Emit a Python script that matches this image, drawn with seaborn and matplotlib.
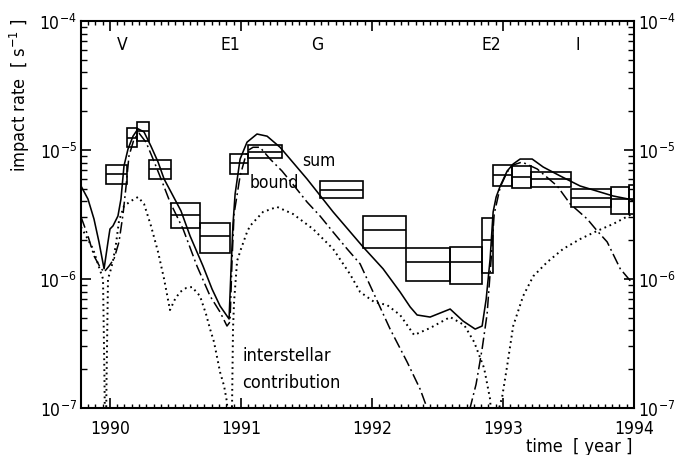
import numpy as np
import pandas as pd
import matplotlib
matplotlib.use("Agg")
import matplotlib.pyplot as plt
from matplotlib import font_manager
from matplotlib.ticker import FixedLocator, FixedFormatter, MultipleLocator, LogLocator, NullFormatter
import seaborn as sns

# ---- model curves (time in years, rate in s^-1) ----
sum_t = [1989.780, 1989.833, 1989.879, 1989.917, 1989.956, 1989.986, 1990.001, 1990.024,
         1990.062, 1990.085, 1990.108, 1990.139, 1990.177, 1990.215, 1990.261, 1990.314,
         1990.368, 1990.414, 1990.467, 1990.543, 1990.612, 1990.711, 1990.780, 1990.841,
         1990.910, 1990.925, 1990.940, 1990.956, 1990.994, 1991.047, 1991.123, 1991.200,
         1991.299, 1991.505, 1991.704, 1991.933, 1992.085, 1992.215, 1992.292, 1992.345,
         1992.444, 1992.597, 1992.696, 1992.788, 1992.841, 1992.872, 1992.902, 1992.925,
         1992.948, 1992.979, 1993.032, 1993.078, 1993.131, 1993.223, 1993.307, 1993.437,
         1993.589, 1993.742, 1993.841, 1993.956, 1994.000]
sum_r = [5.26e-6, 4.17e-6, 2.92e-6, 1.94e-6, 1.20e-6, 1.94e-6, 2.44e-6, 2.58e-6,
         3.08e-6, 4.17e-6, 7.52e-6, 1.02e-5, 1.28e-5, 1.46e-5, 1.38e-5, 1.07e-5,
         8.07e-6, 5.96e-6, 4.72e-6, 3.37e-6, 2.16e-6, 1.26e-6, 8.36e-7, 6.18e-7,
         4.90e-7, 1.20e-6, 2.67e-6, 4.56e-6, 8.51e-6, 1.15e-5, 1.33e-5, 1.28e-5,
         1.05e-5, 5.96e-6, 3.31e-6, 1.77e-6, 1.20e-6, 7.93e-7, 6.07e-7, 5.26e-7,
         5.07e-7, 5.85e-7, 4.72e-7, 4.09e-7, 4.32e-7, 7.00e-7, 1.43e-6, 3.31e-6,
         4.32e-6, 5.26e-6, 6.87e-6, 7.79e-6, 8.51e-6, 8.51e-6, 7.38e-6, 6.29e-6,
         5.26e-6, 4.72e-6, 4.40e-6, 4.17e-6, 4.03e-6]

bound_t = [1989.780, 1989.833, 1989.879, 1989.925, 1989.956, 1989.994, 1990.032, 1990.070,
           1990.101, 1990.124, 1990.146, 1990.185, 1990.223, 1990.276, 1990.330, 1990.391,
           1990.459, 1990.559, 1990.665, 1990.765, 1990.841, 1990.894, 1990.917, 1990.933,
           1990.948, 1990.994, 1991.047, 1991.093, 1991.146, 1991.223, 1991.314, 1991.414,
           1991.505, 1991.604, 1991.704, 1991.811, 1991.910, 1992.009, 1992.139, 1992.269,
           1992.368, 1992.421, 1992.482, 1992.711, 1992.749, 1992.795, 1992.841, 1992.879,
           1992.910, 1992.933, 1992.979, 1993.032, 1993.078, 1993.146, 1993.261, 1993.414,
           1993.513, 1993.643, 1993.719, 1993.795, 1993.895, 1993.986]
bound_r = [3.03e-6, 2.16e-6, 1.51e-6, 1.24e-6, 1.13e-6, 1.26e-6, 1.43e-6, 1.94e-6,
           3.19e-6, 5.26e-6, 8.98e-6, 1.22e-5, 1.35e-5, 1.15e-5, 8.51e-6, 5.96e-6,
           3.95e-6, 2.44e-6, 1.26e-6, 7.38e-7, 5.55e-7, 4.32e-7, 4.65e-7, 1.43e-6,
           3.19e-6, 6.29e-6, 9.82e-6, 1.05e-5, 1.05e-5, 8.51e-6, 6.87e-6, 5.16e-6,
           3.95e-6, 3.08e-6, 2.31e-6, 1.71e-6, 1.31e-6, 7.93e-7, 4.09e-7, 2.27e-7,
           1.40e-7, 1.00e-7, 6.0e-8, 6.0e-8, 1.00e-7, 1.53e-7, 2.87e-7, 5.35e-7,
           1.43e-6, 3.19e-6, 5.16e-6, 6.75e-6, 7.65e-6, 8.07e-6, 7.13e-6, 5.26e-6,
           3.82e-6, 2.92e-6, 2.36e-6, 1.94e-6, 1.20e-6, 9.31e-7]

inter_t = [1989.780, 1989.818, 1989.872, 1989.917, 1989.948, 1989.959, 1989.967, 1989.975,
           1989.986, 1990.009, 1990.024, 1990.047, 1990.070, 1990.108, 1990.162, 1990.215,
           1990.261, 1990.314, 1990.368, 1990.414, 1990.459, 1990.498, 1990.536, 1990.582,
           1990.627, 1990.688, 1990.734, 1990.765, 1990.795, 1990.841, 1990.872, 1990.894,
           1990.914, 1990.933, 1990.940, 1990.948, 1990.971, 1991.001, 1991.047, 1991.070,
           1991.169, 1991.276, 1991.398, 1991.551, 1991.704, 1991.833, 1991.910, 1992.017,
           1992.116, 1992.215, 1992.322, 1992.444, 1992.597, 1992.704, 1992.780, 1992.856,
           1992.902, 1992.935, 1992.971, 1992.994, 1993.032, 1993.078, 1993.154, 1993.231,
           1993.337, 1993.459, 1993.589, 1993.719, 1993.841, 1993.956, 1994.000]
inter_r = [2.53e-6, 2.16e-6, 1.71e-6, 1.24e-6, 1.00e-6, 1.70e-7, 3.0e-8, 1.70e-7,
           1.00e-6, 1.20e-6, 1.38e-6, 1.87e-6, 2.82e-6, 3.68e-6, 4.03e-6, 4.32e-6,
           3.82e-6, 2.58e-6, 1.62e-6, 1.00e-6, 5.75e-7, 7.00e-7, 7.93e-7, 8.51e-7,
           8.67e-7, 7.38e-7, 5.35e-7, 4.09e-7, 3.25e-7, 1.90e-7, 1.48e-7, 1.11e-7,
           3.0e-8, 1.11e-7, 4.09e-7, 6.64e-7, 1.38e-6, 1.71e-6, 2.31e-6, 2.58e-6,
           3.31e-6, 3.62e-6, 3.19e-6, 2.44e-6, 1.71e-6, 1.09e-6, 7.93e-7, 6.64e-7,
           6.28e-7, 5.26e-7, 3.68e-7, 4.17e-7, 5.07e-7, 4.40e-7, 3.25e-7, 2.04e-7,
           1.17e-7, 3.0e-8, 1.00e-7, 1.22e-7, 2.12e-7, 4.32e-7, 7.38e-7, 1.05e-6,
           1.35e-6, 1.71e-6, 2.04e-6, 2.36e-6, 2.67e-6, 3.08e-6, 3.25e-6]

# ---- measured rates: interval start/end, lower bound, mean, upper bound ----
box_start = [1989.971, 1990.131, 1990.207, 1990.299, 1990.467, 1990.688, 1990.917, 1991.055,
             1991.604, 1991.933, 1992.261, 1992.597, 1992.841, 1992.925, 1993.070, 1993.215,
             1993.520, 1993.826, 1993.963]
box_end = [1990.131, 1990.207, 1990.299, 1990.467, 1990.688, 1990.917, 1991.055, 1991.314,
           1991.933, 1992.261, 1992.597, 1992.841, 1992.925, 1993.070, 1993.215, 1993.520,
           1993.826, 1993.963, 1994.000]
box_lo = [5.45e-6, 1.05e-5, 1.17e-5, 5.96e-6, 2.48e-6, 1.59e-6, 6.52e-6, 8.67e-6,
          4.25e-6, 1.74e-6, 9.64e-7, 9.15e-7, 1.11e-6, 5.26e-6, 5.07e-6, 5.16e-6,
          3.61e-6, 3.19e-6, 3.19e-6]
box_mid = [6.52e-6, 1.24e-5, 1.40e-5, 7.13e-6, 3.13e-6, 2.15e-6, 7.93e-6, 9.65e-6,
           4.90e-6, 2.40e-6, 1.36e-6, 1.36e-6, 2.01e-6, 6.40e-6, 6.18e-6, 5.96e-6,
           4.25e-6, 4.17e-6, 4.17e-6]
box_hi = [7.66e-6, 1.48e-5, 1.65e-5, 8.35e-6, 3.88e-6, 2.72e-6, 9.31e-6, 1.09e-5,
          5.75e-6, 3.08e-6, 1.74e-6, 1.77e-6, 2.97e-6, 7.66e-6, 7.52e-6, 6.75e-6,
          4.99e-6, 5.16e-6, 5.36e-6]

# ---- planetary flyby markers ----
flyby_names = ["V", "E1", "G", "E2", "I"]
flyby_t = [1990.093, 1990.918, 1991.58, 1992.91, 1993.57]

year_ticks = [1990, 1991, 1992, 1993, 1994]
year_labels = ["1990", "1991", "1992", "1993", "1994"]
rate_ticks = [1e-7, 1e-6, 1e-5, 1e-4]
rate_labels = [r"$10^{-7}$", r"$10^{-6}$", r"$10^{-5}$", r"$10^{-4}$"]

# ---- style: prefer a narrow sans face if one is installed ----
sns.set_theme(style="ticks")
fonts = font_manager.fontManager.ttflist
names = {f.name for f in fonts}
condensed = any(f.name == "DejaVu Sans" and f.stretch == "condensed" for f in fonts)
if "Liberation Sans Narrow" in names:
    FONT, STRETCH, fs = "Liberation Sans Narrow", "normal", 13.5
elif condensed:
    FONT, STRETCH, fs = "DejaVu Sans", "condensed", 12.5
else:
    FONT, STRETCH, fs = "DejaVu Sans", "normal", 11.5
plt.rcParams["font.family"] = [FONT, "DejaVu Sans"]
plt.rcParams["font.stretch"] = STRETCH
plt.rcParams["mathtext.fontset"] = "custom"
plt.rcParams["mathtext.rm"] = FONT
plt.rcParams["mathtext.it"] = FONT
plt.rcParams["mathtext.bf"] = FONT
plt.rcParams["mathtext.sf"] = FONT
plt.rcParams["axes.unicode_minus"] = True

fig = plt.figure(figsize=(6.77, 4.56), dpi=100)
ax = fig.add_axes([81 / 677, 1 - 409 / 456, 553 / 677, 387 / 456])
ax.set_yscale("log")

df_sum = pd.DataFrame({"t": sum_t, "r": sum_r})
df_bound = pd.DataFrame({"t": bound_t, "r": bound_r})
df_inter = pd.DataFrame({"t": inter_t, "r": inter_r})

sns.lineplot(data=df_sum, x="t", y="r", ax=ax, color="black", linewidth=1.15,
             sort=False, estimator=None)
sns.lineplot(data=df_bound, x="t", y="r", ax=ax, color="black", linewidth=1.1,
             linestyle=(0, (7.5, 2.4, 1.2, 2.4)), sort=False, estimator=None)
sns.lineplot(data=df_inter, x="t", y="r", ax=ax, color="black", linewidth=1.4,
             linestyle=(0, (0.9, 1.9)), sort=False, estimator=None)

# measurement boxes with mean line
widths = np.array(box_end) - np.array(box_start)
heights = np.array(box_hi) - np.array(box_lo)
ax.bar(box_start, heights, width=widths, bottom=box_lo, align="edge",
       fill=False, edgecolor="black", linewidth=1.2, zorder=3)
ax.hlines(box_mid, box_start, box_end, colors="black", linewidth=1.2, zorder=3)

ax.set_xlim(1989.78, 1994.0)
ax.set_ylim(1e-7, 1e-4)

# ticks on all four sides, pointing inward
ax.xaxis.set_major_locator(FixedLocator(year_ticks))
ax.xaxis.set_major_formatter(FixedFormatter(year_labels))
ax.xaxis.set_minor_locator(MultipleLocator(1 / 18))
ax.yaxis.set_major_locator(FixedLocator(rate_ticks))
ax.yaxis.set_major_formatter(FixedFormatter(rate_labels))
ax.yaxis.set_minor_locator(LogLocator(base=10, subs=np.arange(2, 10)))
ax.yaxis.set_minor_formatter(NullFormatter())
ax.tick_params(axis="both", which="both", direction="in", top=True, right=True,
               color="black", labelcolor="black", labelsize=fs)
ax.tick_params(axis="both", which="major", length=7, width=1.2)
ax.tick_params(axis="y", which="minor", length=4, width=1.0)
ax.tick_params(axis="x", which="minor", length=3, width=1.0)
ax.tick_params(axis="x", which="major", pad=8)
ax.tick_params(axis="y", which="major", labelleft=True, labelright=True, pad=3)
for s in ax.spines.values():
    s.set_linewidth(1.5)
    s.set_color("black")
ax.set_xlabel("")
ax.set_ylabel("")

# flyby labels
for name, t in zip(flyby_names, flyby_t):
    ax.text(t, 6.64e-5, name, ha="center", va="center", fontsize=fs, color="black")

# curve labels
ax.text(1991.47, 8.35e-6, "sum", ha="left", va="center", fontsize=fs, color="black")
ax.text(1991.07, 5.65e-6, "bound", ha="left", va="center", fontsize=fs, color="black")
ax.text(1991.01, 2.58e-7, "interstellar", ha="left", va="center", fontsize=fs + 0.5, color="black")
ax.text(1991.01, 1.59e-7, "contribution", ha="left", va="center", fontsize=fs + 0.5, color="black")

fig.text(20 / 677, 1 - 18 / 456, r"impact rate  [ s$^{-1}$ ]", rotation=90,
         ha="center", va="top", fontsize=fs + 0.5, color="black")
fig.text(632 / 677, 1 - 447 / 456, "time  [ year ]", ha="right", va="center",
         fontsize=fs + 0.5, color="black")

fig.savefig("out.png", dpi=100)
